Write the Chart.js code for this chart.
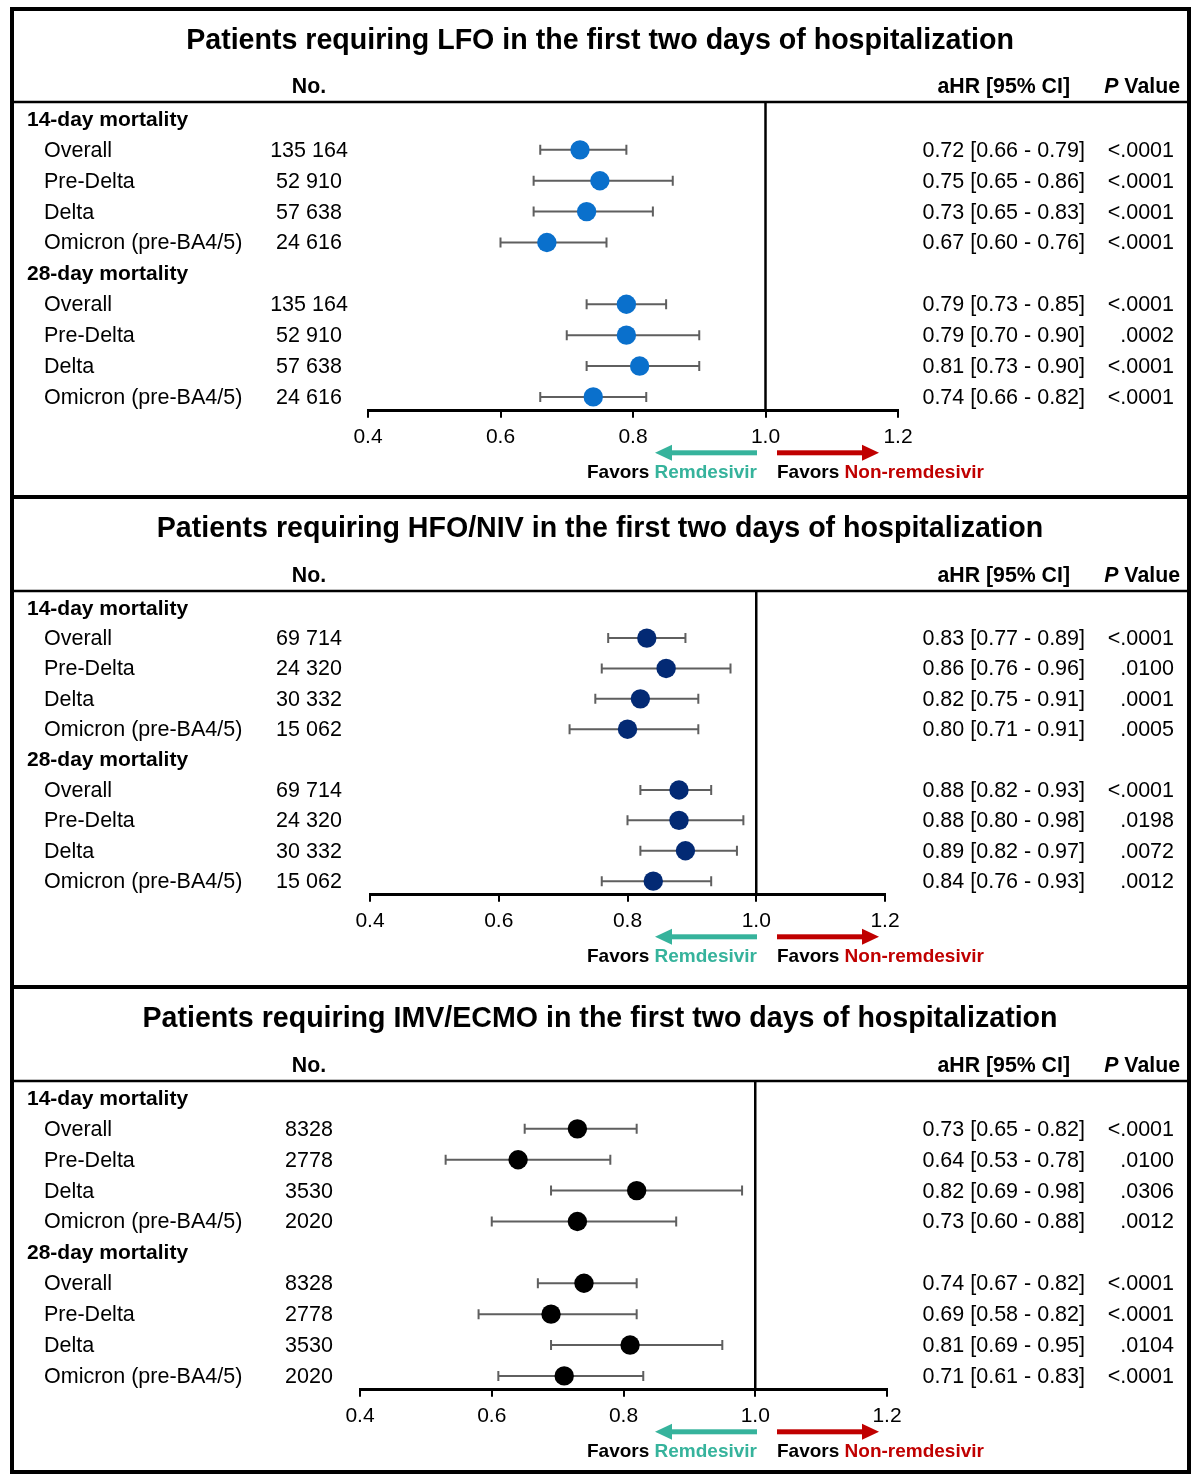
<!DOCTYPE html>
<html>
<head>
<meta charset="utf-8">
<script src="https://cdn.jsdelivr.net/npm/chart.js@4.4.1/dist/chart.umd.min.js"></script>
<style>
  body { margin: 0; background: #fff; }
  #frame { position: absolute; left: 10px; top: 7px; width: 1173px; border: 4px solid #000; }
  #frame canvas { display: block; }
  .sep { border-bottom: 4px solid #000; }
</style>
</head>
<body>
<div id="frame">
  <div class="sep"><canvas id="lfo" width="1173" height="484"></canvas></div>
  <div class="sep"><canvas id="hfo" width="1173" height="486"></canvas></div>
  <div><canvas id="imv" width="1173" height="481"></canvas></div>
</div>
<script>
// rows: 0 = 14-day heading, 1-4 its subgroups, 5 = 28-day heading, 6-9 its subgroups
const groupLabels = ["14-day mortality", "28-day mortality"];
const groupRows = [0, 5];
const rowLabels = ["Overall", "Pre-Delta", "Delta", "Omicron (pre-BA4/5)"];
const rowPos = [1, 2, 3, 4, 6, 7, 8, 9];
const xTicks = [0.4, 0.6, 0.8, 1.0, 1.2];

// LFO
const lfoN = ["135 164", "52 910", "57 638", "24 616"];
const lfoHR = [0.72, 0.75, 0.73, 0.67, 0.79, 0.79, 0.81, 0.74];
const lfoLo = [0.66, 0.65, 0.65, 0.60, 0.73, 0.70, 0.73, 0.66];
const lfoHi = [0.79, 0.86, 0.83, 0.76, 0.85, 0.90, 0.90, 0.82];
const lfoP = ["<.0001", "<.0001", "<.0001", "<.0001", "<.0001", ".0002", "<.0001", "<.0001"];

// HFO/NIV
const hfoN = ["69 714", "24 320", "30 332", "15 062"];
const hfoHR = [0.83, 0.86, 0.82, 0.80, 0.88, 0.88, 0.89, 0.84];
const hfoLo = [0.77, 0.76, 0.75, 0.71, 0.82, 0.80, 0.82, 0.76];
const hfoHi = [0.89, 0.96, 0.91, 0.91, 0.93, 0.98, 0.97, 0.93];
const hfoP = ["<.0001", ".0100", ".0001", ".0005", "<.0001", ".0198", ".0072", ".0012"];

// IMV/ECMO
const imvN = ["8328", "2778", "3530", "2020"];
const imvHR = [0.73, 0.64, 0.82, 0.73, 0.74, 0.69, 0.81, 0.71];
const imvLo = [0.65, 0.53, 0.69, 0.60, 0.67, 0.58, 0.69, 0.61];
const imvHi = [0.82, 0.78, 0.98, 0.88, 0.82, 0.82, 0.95, 0.83];
const imvP = ["<.0001", ".0100", ".0306", ".0012", "<.0001", "<.0001", ".0104", "<.0001"];

const FONT = '"Liberation Sans", Arial, sans-serif';
const TEAL = "#36b39c";
const RED = "#c00000";

function arrow(ctx, x0, x1, yy, color) {
  const dir = Math.sign(x1 - x0);
  const head = 17;
  const neck = x1 - dir * head;
  ctx.fillStyle = color;
  ctx.fillRect(Math.min(x0, neck), yy - 2.5, Math.abs(neck - x0), 5);
  ctx.beginPath();
  ctx.moveTo(x1, yy);
  ctx.lineTo(neck, yy - 8);
  ctx.lineTo(neck, yy + 8);
  ctx.closePath();
  ctx.fill();
}

function fmt(v) {
  return v.toFixed(2);
}

function forestPlugin(p) {
  return {
    id: "forest",
    beforeDatasetsDraw(chart) {
      const { ctx, chartArea, scales: { x, y } } = chart;
      ctx.save();
      const x1 = x.getPixelForValue(1.0);
      ctx.strokeStyle = "#000";
      ctx.lineWidth = 2.5;
      ctx.beginPath();
      ctx.moveTo(x1, chartArea.top);
      ctx.lineTo(x1, chartArea.bottom);
      ctx.stroke();

      ctx.strokeStyle = "#5f5f5f";
      ctx.lineWidth = 2;
      p.hr.forEach((v, i) => {
        const py = y.getPixelForValue(rowPos[i]);
        const a = x.getPixelForValue(p.lo[i]);
        const b = x.getPixelForValue(p.hi[i]);
        ctx.beginPath();
        ctx.moveTo(a, py); ctx.lineTo(b, py);
        ctx.moveTo(a, py - 5); ctx.lineTo(a, py + 5);
        ctx.moveTo(b, py - 5); ctx.lineTo(b, py + 5);
        ctx.stroke();
      });
      ctx.restore();
    },
    afterDraw(chart) {
      const { ctx, chartArea, scales: { y } } = chart;
      const w = chart.width;
      ctx.save();
      ctx.fillStyle = "#000";
      ctx.textBaseline = "middle";

      // title
      ctx.font = "bold 28.6px " + FONT;
      ctx.textAlign = "center";
      ctx.fillText(p.title, 586, 30);

      // header
      const hy = chartArea.top - 15;
      ctx.font = "bold 21.3px " + FONT;
      ctx.fillText("No.", 295, hy);
      ctx.textAlign = "right";
      ctx.fillText("aHR [95% CI]", 1056, hy);
      ctx.fillText(" Value", 1166, hy);
      const vw = ctx.measureText(" Value").width;
      ctx.font = "italic bold 21.3px " + FONT;
      ctx.fillText("P", 1166 - vw, hy);

      ctx.strokeStyle = "#000";
      ctx.lineWidth = 2.5;
      ctx.beginPath();
      ctx.moveTo(0, chartArea.top);
      ctx.lineTo(w, chartArea.top);
      ctx.stroke();

      // group headings
      ctx.font = "bold 21px " + FONT;
      ctx.textAlign = "left";
      groupLabels.forEach((g, i) => ctx.fillText(g, 13, y.getPixelForValue(groupRows[i]) + 1));

      // rows
      ctx.font = "21.5px " + FONT;
      p.hr.forEach((v, i) => {
        const py = y.getPixelForValue(rowPos[i]) + 1;
        ctx.textAlign = "left";
        ctx.fillText(rowLabels[i % 4], 30, py);
        ctx.textAlign = "center";
        ctx.fillText(p.n[i % 4], 295, py);
        ctx.textAlign = "right";
        ctx.fillText(fmt(v) + " [" + fmt(p.lo[i]) + " - " + fmt(p.hi[i]) + "]", 1071, py);
        ctx.fillText(p.p[i], 1160, py);
      });

      // favors arrows
      const ay = chartArea.bottom + 42;
      arrow(ctx, 743, 641, ay, TEAL);
      arrow(ctx, 763, 865, ay, RED);

      const fy = chartArea.bottom + 62;
      ctx.font = "bold 19px " + FONT;
      ctx.textAlign = "left";
      const fav = ctx.measureText("Favors ").width;
      const rem = ctx.measureText("Remdesivir").width;
      ctx.fillStyle = "#000";
      ctx.fillText("Favors ", 743 - rem - fav, fy);
      ctx.fillStyle = TEAL;
      ctx.fillText("Remdesivir", 743 - rem, fy);
      ctx.fillStyle = "#000";
      ctx.fillText("Favors ", 763, fy);
      ctx.fillStyle = RED;
      ctx.fillText("Non-remdesivir", 763 + fav, fy);
      ctx.restore();
    }
  };
}

function renderForest(canvasId, p) {
  const ctx = document.getElementById(canvasId);
  return new Chart(ctx, {
    type: "scatter",
    data: {
      datasets: [
        {
          data: p.hr.map((v, i) => ({ x: v, y: rowPos[i] })),
          backgroundColor: p.color,
          borderWidth: 0,
          pointRadius: 9.7,
          pointHoverRadius: 9.7
        }
      ]
    },
    options: {
      responsive: false,
      animation: false,
      events: [],
      layout: { padding: p.pad },
      plugins: { legend: { display: false }, tooltip: { enabled: false } },
      scales: {
        x: {
          type: "linear",
          min: xTicks[0],
          max: xTicks[xTicks.length - 1],
          afterBuildTicks: (s) => { s.ticks = xTicks.map(v => ({ value: v })); },
          ticks: {
            color: "#000",
            padding: 7,
            font: { family: FONT, size: 21 },
            callback: (v) => Number(v).toFixed(1)
          },
          grid: { display: true, drawOnChartArea: false, drawTicks: true, tickLength: 7, color: "#000", lineWidth: 2 },
          border: { display: true, color: "#000", width: 3 }
        },
        y: {
          type: "linear",
          reverse: true,
          min: -0.55,
          max: 9.45,
          display: false
        }
      }
    },
    plugins: [forestPlugin(p)]
  });
}

renderForest("lfo", {
  title: "Patients requiring LFO in the first two days of hospitalization",
  n: lfoN, hr: lfoHR, lo: lfoLo, hi: lfoHi, p: lfoP,
  color: "#0a70cc",
  pad: { left: 354, right: 289, top: 91, bottom: 38 }
});

renderForest("hfo", {
  title: "Patients requiring HFO/NIV in the first two days of hospitalization",
  n: hfoN, hr: hfoHR, lo: hfoLo, hi: hfoHi, p: hfoP,
  color: "#032a74",
  pad: { left: 356, right: 302, top: 92, bottom: 44 }
});

renderForest("imv", {
  title: "Patients requiring IMV/ECMO in the first two days of hospitalization",
  n: imvN, hr: imvHR, lo: imvLo, hi: imvHi, p: imvP,
  color: "#000000",
  pad: { left: 346, right: 300, top: 92, bottom: 34 }
});
</script>
</body>
</html>
